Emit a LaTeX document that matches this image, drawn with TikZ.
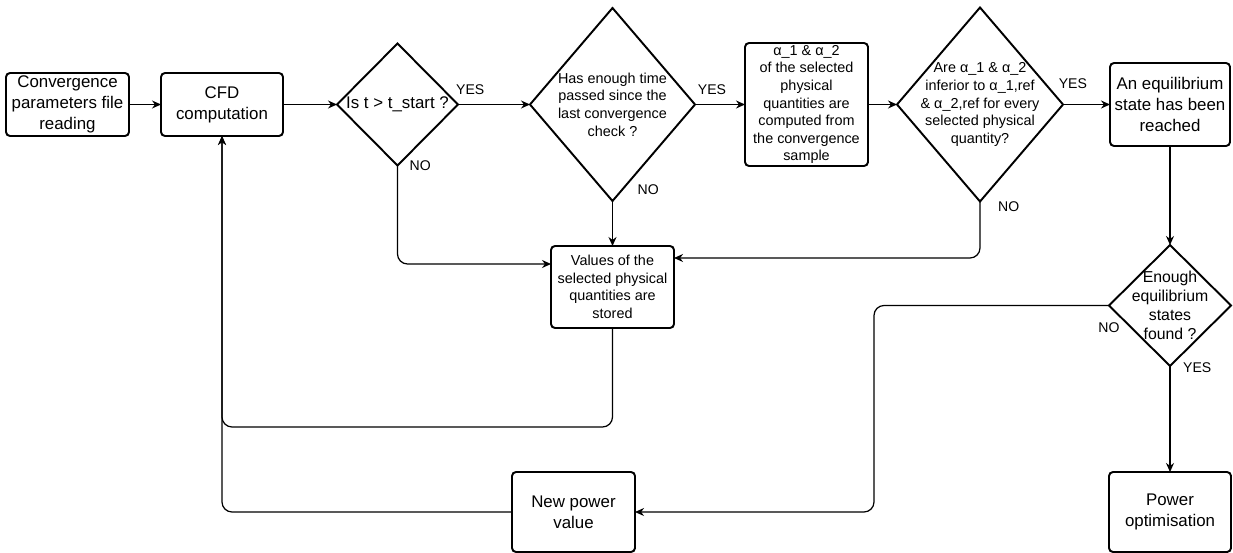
\documentclass[tikz,border=0pt]{standalone}
\usepackage{fontspec}
\setmainfont{Liberation Sans}
\usetikzlibrary{shapes.geometric, positioning, arrows.meta, calc}

\begin{document}
\begin{tikzpicture}[
  font=\fontsize{9.6}{11.9}\selectfont,
  node distance=1cm,
  procbox/.style={draw, line width=1.1pt, rounded corners=0.8mm, align=center,
    inner sep=0pt, outer sep=0pt, minimum width=2.44cm, minimum height=1.26cm},
  decision/.style={diamond, draw, line width=1.1pt, inner sep=0pt, outer sep=0pt},
  smalltxt/.style={font=\fontsize{8.2}{10}\selectfont, align=center},
  lbl/.style={font=\fontsize{8}{9.6}\selectfont, inner sep=1pt},
  arrow/.style={-{Stealth[length=1.8mm, width=1.6mm]}, line width=0.7pt}
]
  \useasboundingbox (0,0) rectangle (24.66,-11.06);

  % main row
  \node[procbox, minimum width=2.46cm] (conv) at (1.35,-2.09)
    {Convergence\\parameters file\\reading};
  \node[procbox, right=0.64cm of conv] (cfd) {CFD\\computation};
  \node[decision, minimum width=2.42cm, minimum height=2.44cm, right=1.08cm of cfd,
    label={[align=center]center:Is t > t\_start ?}] (d1) {};
  \node[decision, minimum width=3.3cm, minimum height=3.86cm, right=1.44cm of d1,
    label={[smalltxt]center:Has enough time\\passed since the\\last convergence\\check ?}] (d2) {};
  \node[procbox, smalltxt, minimum width=2.46cm, minimum height=2.46cm, right=1cm of d2] (alpha)
    {α\_1 \& α\_2\\of the selected\\physical\\quantities are\\computed from\\the convergence\\sample};
  \node[decision, minimum width=3.32cm, minimum height=3.88cm, right=0.58cm of alpha,
    label={[smalltxt]center:Are α\_1 \& α\_2\\inferior to α\_1,ref\\\& α\_2,ref for every\\selected physical\\quantity?}] (d3) {};
  \node[procbox, minimum width=2.4cm, minimum height=1.66cm, right=0.94cm of d3] (eq)
    {An equilibrium\\state has been\\reached};

  % lower part
  \node[procbox, smalltxt, minimum width=2.46cm, minimum height=1.64cm, below=0.9cm of d2] (values)
    {Values of the\\selected physical\\quantities are\\stored};
  \node[decision, minimum width=2.44cm, minimum height=2.42cm, below=1.98cm of eq,
    label={[align=center, font=\fontsize{9}{10.8}\selectfont]center:Enough\\equilibrium\\states\\found ?}] (d4) {};
  \node[procbox, minimum height=1.6cm, below=2.12cm of d4] (opt) {Power\\optimisation};
  \node[procbox, minimum width=2.46cm, minimum height=1.6cm, left=9.48cm of opt] (newp) {New power\\value};

  % branch labels
  \node[lbl, right=0.2cm of d1.south] (no1) {NO};
  \node[lbl, right=0.46cm of d2.south, yshift=0.22cm] (no2) {NO};
  \node[lbl, right=0.32cm of d3.south, yshift=-0.1cm] (no3) {NO};
  \node[lbl, right=0.22cm of d4.south, yshift=-0.04cm] (yes4) {YES};
  \node[lbl, below=0.3cm of d4.west] (no4) {NO};

  % connectors
  \draw[arrow] (conv) -- (cfd);
  \draw[arrow] (cfd) -- (d1);
  \draw[arrow] (d1) -- node[lbl, pos=0.17, above=4pt] (yes1) {YES} (d2);
  \draw[arrow] (d2) -- node[lbl, pos=0.34, above=4pt] (yes2) {YES} (alpha);
  \draw[arrow] (alpha) -- (d3);
  \draw[arrow] (d3) -- node[lbl, pos=0.21, above=7.4pt] (yes3) {YES} (eq);
  \draw[arrow, rounded corners=2mm] (d1.south) |- ([yshift=0.46cm]values.west);
  \draw[arrow] (d2) -- (values);
  \draw[arrow, rounded corners=2mm] (d3.south) |- ([yshift=0.58cm]values.east);
  \draw[arrow] (eq) -- (d4);
  \draw[arrow] (d4) -- (opt);
  \draw[arrow, rounded corners=2mm] (d4.west) -- ++(-4.7,0) |- (newp.east);
  \draw[arrow, rounded corners=2mm] (newp.west) -| (cfd.south);
  \draw[arrow, rounded corners=2mm] (values.south) -- ++(0,-1.98) -| (cfd.south);
\end{tikzpicture}
\end{document}
